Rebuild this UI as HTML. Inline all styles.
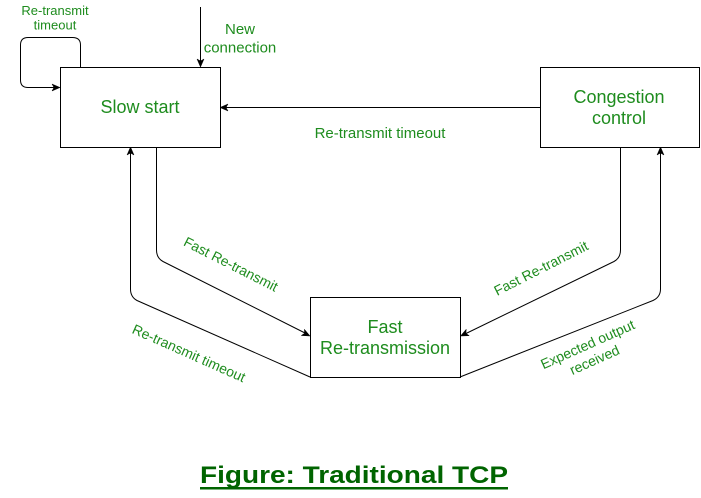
<!DOCTYPE html>
<html>
<head>
<meta charset="utf-8">
<style>
  html, body { margin: 0; padding: 0; background: #ffffff; }
  body { width: 701px; height: 498px; overflow: hidden; }
  svg { display: block; }
  text { font-family: "Liberation Sans", Arial, sans-serif; fill: #1e8c1e; }
</style>
</head>
<body>
<svg width="701" height="498" viewBox="0 0 701 498" xmlns="http://www.w3.org/2000/svg">
  <rect x="0" y="0" width="701" height="498" fill="#ffffff"/>

  <!-- Boxes -->
  <rect x="60.5" y="67.5" width="160" height="80" fill="#fff" stroke="#000" stroke-width="1"/>
  <rect x="540.5" y="67.5" width="159" height="80" fill="#fff" stroke="#000" stroke-width="1"/>
  <rect x="310.5" y="297.5" width="150" height="80" fill="#fff" stroke="#000" stroke-width="1"/>

  <!-- Connectors -->
  <g fill="none" stroke="#000" stroke-width="1">
    <path d="M80.5,67 V45 Q80.5,37.5 72.5,37.5 H28 Q20.5,37.5 20.5,45 V80 Q20.5,87.5 28,87.5 H54"/>
    <path d="M200.5,7 V61"/>
    <path d="M540,107.5 H226"/>
    <path d="M156.5,147 V250 Q156.5,258 163,261.5 L305,333"/>
    <path d="M310,377 L137,300.5 Q130.5,297 130.5,289 V153"/>
    <path d="M620.5,147 V250 Q620.5,258 614,261.5 L466,333.5"/>
    <path d="M460,377 L653,300.5 Q660.5,297 660.5,289 V153"/>
  </g>

  <!-- Arrowheads -->
  <g fill="#000" stroke="#000" stroke-width="0.5">
    <polygon points="60,87.5 52,84 54,87.5 52,91"/>
    <polygon points="200.5,67 197,59 200.5,61 204,59"/>
    <polygon points="220,107.5 228,104 226,107.5 228,111"/>
    <polygon points="310,336 304.4,329.3 304.6,333.3 301.3,335.5"/>
    <polygon points="130.5,147 127,155 130.5,153 134,155"/>
    <polygon points="460.5,336 466.2,329.3 465.9,333.4 469.2,335.7"/>
    <polygon points="660.5,147 657,155 660.5,153 664,155"/>
  </g>

  <!-- Box labels -->
  <text x="140" y="113" font-size="18" text-anchor="middle">Slow start</text>
  <text x="619" y="103" font-size="18" text-anchor="middle">Congestion</text>
  <text x="619" y="124" font-size="18" text-anchor="middle">control</text>
  <text x="385" y="333" font-size="18" text-anchor="middle">Fast</text>
  <text x="385" y="354" font-size="18" text-anchor="middle">Re-transmission</text>

  <!-- Edge labels -->
  <text x="55" y="15" font-size="13" text-anchor="middle">Re-transmit</text>
  <text x="55" y="29.5" font-size="13" text-anchor="middle">timeout</text>

  <text x="240" y="34" font-size="15" text-anchor="middle">New</text>
  <text x="240" y="52.5" font-size="15" text-anchor="middle">connection</text>

  <text x="380" y="138" font-size="15" text-anchor="middle">Re-transmit timeout</text>

  <text transform="translate(231,264) rotate(27)" x="0" y="5" font-size="14" text-anchor="middle">Fast Re-transmit</text>
  <text transform="translate(189,353) rotate(24)" x="0" y="5" font-size="14" text-anchor="middle">Re-transmit timeout</text>
  <text transform="translate(541,268) rotate(-27)" x="0" y="5" font-size="14" text-anchor="middle">Fast Re-transmit</text>
  <g transform="translate(591,352) rotate(-24)">
    <text x="0" y="-3.5" font-size="14" text-anchor="middle">Expected output</text>
    <text x="0" y="13.5" font-size="14" text-anchor="middle">received</text>
  </g>

  <!-- Title -->
  <text x="200" y="483" font-size="24" font-weight="bold" textLength="308" lengthAdjust="spacingAndGlyphs" style="fill:#006400">Figure: Traditional TCP</text>
  <rect x="200" y="487" width="308" height="2.5" fill="#006400"/>
</svg>
</body>
</html>
